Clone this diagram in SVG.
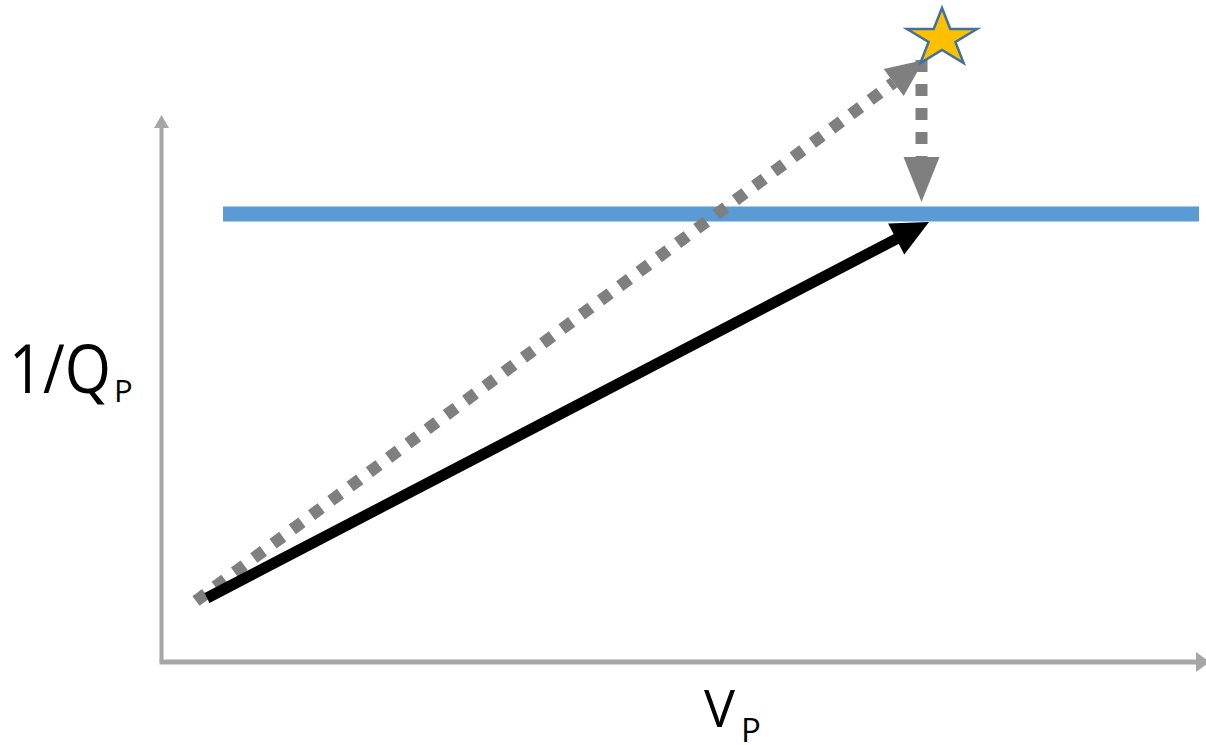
<svg xmlns="http://www.w3.org/2000/svg" width="1206" height="745" viewBox="0 0 1206 745">
  <style>
    .axis { stroke: #a6a6a6; stroke-width: 4; fill: none; }
    .axhead { fill: #a6a6a6; }
    .dot { stroke: #7f7f7f; stroke-width: 12; stroke-dasharray: 12 12; fill: none; stroke-linecap: butt; }
    .dothead { fill: #7f7f7f; }
    .lbl { font-family: "Open Sans", "Liberation Sans", sans-serif; fill: #000; }
  </style>
  <rect width="1206" height="745" fill="#ffffff"/>
  <g id="axes">
    <line class="axis" x1="161.5" y1="662" x2="161.5" y2="126"/>
    <polygon class="axhead" points="154,128 169,128 161.5,115"/>
    <line class="axis" x1="159.5" y1="662" x2="1198" y2="662" style="stroke-width:5"/>
    <polygon class="axhead" points="1196,652 1196,672 1210,662"/>
  </g>
  <g id="blue-line">
    <line x1="223" y1="214" x2="1199" y2="214" stroke="#5b9bd5" stroke-width="15"/>
  </g>
  <g id="connectors">
    <line class="dot" x1="196" y1="601" x2="893.7" y2="82.5"/>
    <polygon class="dothead" points="903.7,96 883.7,69 924,60"/>
    <line class="dot" x1="921.5" y1="60" x2="921.5" y2="158"/>
    <polygon class="dothead" points="903.5,157 939.5,157 921.5,202"/>
    <line x1="207" y1="598" x2="897" y2="238.6" stroke="#000" stroke-width="11"/>
    <polygon fill="#000" points="904.3,254.5 888.1,223.5 929,222"/>
  </g>
  <g id="star">
    <polygon points="942,8 950.3,29 977,29 955.4,42 963.6,63 942,50 920.4,63 928.6,42 907,29 933.7,29" fill="#ffc000" stroke="#41719c" stroke-width="2.5" stroke-linejoin="miter"/>
  </g>
  <g id="label-y">
    <text class="lbl" x="9" y="393" font-size="67"><tspan textLength="102" lengthAdjust="spacingAndGlyphs">1/Q</tspan><tspan x="114" y="402" font-size="31">P</tspan></text>
  </g>
  <g id="label-x">
    <text class="lbl" x="704" y="727" font-size="52">V<tspan x="741" y="742" font-size="33">P</tspan></text>
  </g>
</svg>
